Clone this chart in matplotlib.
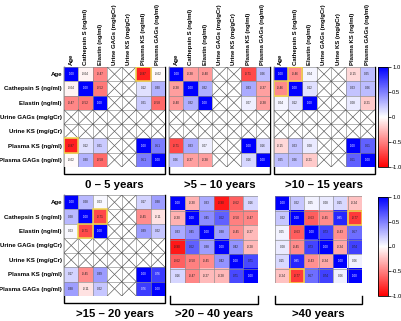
import numpy as np
import matplotlib
matplotlib.use("Agg")
import matplotlib.pyplot as plt
from matplotlib.colors import LinearSegmentedColormap
from matplotlib.patches import Rectangle

plt.rcParams['font.family'] = ['Liberation Sans', 'DejaVu Sans']

N = np.nan
variables = ["Age", "Cathepsin S (ng/ml)", "Elastin (ng/ml)", "Urine GAGs (mg/gCr)",
             "Urine KS (mg/gCr)", "Plasma KS (ng/ml)", "Plasma GAGs (ng/ml)"]

corr_0_5 = [
    [1.00, -0.04, -0.47, N, N, -0.87, -0.02],
    [-0.04, 1.00, -0.52, N, N, 0.12, 0.30],
    [-0.47, -0.52, 1.00, N, N, 0.21, -0.58],
    [N, N, N, N, N, N, N],
    [N, N, N, N, N, N, N],
    [-0.87, 0.12, 0.21, N, N, 1.00, 0.51],
    [-0.02, 0.30, -0.58, N, N, 0.51, 1.00]]
sig_0_5 = [(0, 5), (5, 0)]

corr_5_10 = [
    [1.00, -0.38, -0.40, N, N, -0.71, 0.26],
    [-0.38, 1.00, 0.32, N, N, 0.33, -0.37],
    [-0.40, 0.32, 1.00, N, N, 0.07, -0.38],
    [N, N, N, N, N, N, N],
    [N, N, N, N, N, N, N],
    [-0.71, 0.33, 0.07, N, N, 1.00, 0.16],
    [0.26, -0.37, -0.38, N, N, 0.16, 1.00]]
sig_5_10 = []

corr_10_15 = [
    [1.00, -0.46, 0.04, N, N, -0.15, 0.25],
    [-0.46, 1.00, 0.12, N, N, 0.23, 0.26],
    [0.04, 0.12, 1.00, N, N, 0.08, -0.21],
    [N, N, N, N, N, N, N],
    [N, N, N, N, N, N, N],
    [-0.15, 0.23, 0.08, N, N, 1.00, 0.61],
    [0.25, 0.26, -0.21, N, N, 0.61, 1.00]]
sig_10_15 = [(0, 1), (1, 0)]

corr_15_20 = [
    [1.00, 0.28, 0.03, N, N, 0.17, 0.38],
    [0.28, 1.00, -0.71, N, N, -0.45, -0.11],
    [0.03, -0.71, 1.00, N, N, 0.39, 0.22],
    [N, N, N, N, N, N, N],
    [N, N, N, N, N, N, N],
    [0.17, -0.45, 0.39, N, N, 1.00, 0.76],
    [0.38, -0.11, 0.22, N, N, 0.76, 1.00]]
sig_15_20 = [(1, 2), (2, 1)]

corr_20_40 = [
    [1.00, -0.30, 0.33, -0.90, -0.62, 0.16],
    [-0.30, 1.00, 0.45, 0.62, -0.50, -0.47],
    [0.33, 0.45, 1.00, 0.38, -0.45, -0.27],
    [-0.90, 0.62, 0.38, 1.00, 0.42, -0.28],
    [-0.62, -0.50, -0.45, 0.42, 1.00, 0.71],
    [0.16, -0.47, -0.27, -0.28, 0.71, 1.00]]
sig_20_40 = []

corr_40 = [
    [1.00, 0.22, 0.05, 0.08, 0.15, -0.24],
    [0.22, 1.00, -0.63, -0.45, 0.85, -0.77],
    [0.05, -0.63, 1.00, 0.73, -0.43, 0.57],
    [0.08, -0.45, 0.73, 1.00, -0.34, 0.74],
    [0.15, 0.85, -0.43, -0.34, 1.00, 0.06],
    [-0.24, -0.77, 0.57, 0.74, 0.06, 1.00]]
sig_40 = [(1, 5), (5, 1)]

titles = ["0 \u2013 5 years", ">5 \u2013 10 years", ">10 \u2013 15 years",
          ">15 \u2013 20 years", ">20 \u2013 40 years", ">40 years"]
cbar_ticks = [1.0, 0.5, 0.0, -0.5, -1.0]
cbar_ticklabels = ["1.0", "0.5", "0", "-0.5", "-1.0"]

W, H = 401, 321
fig = plt.figure(figsize=(W / 100, H / 100), dpi=100)

cmap = LinearSegmentedColormap.from_list("rwb", ["#FF0000", "#FFFFFF", "#0000FF"])
cmap.set_bad("white")


def box(x0, y0, x1, y1):
    return [x0 / W, 1 - y1 / H, (x1 - x0) / W, (y1 - y0) / H]


overlay = fig.add_axes([0, 0, 1, 1], zorder=0)
overlay.set_xlim(0, W)
overlay.set_ylim(H, 0)
overlay.axis("off")


def heatmap(data, sig, rect, rowlabels=False, collabels=False):
    m = np.array(data, dtype=float)
    n = m.shape[0]
    ax = fig.add_axes(box(*rect), zorder=2)
    im = ax.imshow(np.ma.masked_invalid(m), cmap=cmap, vmin=-1, vmax=1,
                   aspect="auto", interpolation="nearest")
    ax.set_xlim(-0.5, n - 0.5)
    ax.set_ylim(n - 0.5, -0.5)
    for k in range(n + 1):
        ax.axhline(k - 0.5, color="#8a8a8a", lw=0.45)
        ax.axvline(k - 0.5, color="#8a8a8a", lw=0.45)
    for i in range(n):
        for j in range(n):
            v = m[i, j]
            if np.isnan(v):
                ax.plot([j - 0.5, j + 0.5], [i - 0.5, i + 0.5], color="#555555", lw=0.45)
                ax.plot([j - 0.5, j + 0.5], [i + 0.5, i - 0.5], color="#555555", lw=0.45)
            else:
                ax.text(j, i, f"{v:.2f}", ha="center", va="center", fontsize=2.2,
                        color="white" if v > 0.75 else "#222222")
    for (i, j) in sig:
        ax.add_patch(Rectangle((j - 0.5, i - 0.5), 1, 1, fill=False,
                               edgecolor="#F4D64A", lw=1.1, zorder=5))
    for s in ax.spines.values():
        s.set_visible(False)
    ax.tick_params(length=0, pad=1.5)
    if rowlabels:
        ax.set_yticks(range(n))
        ax.set_yticklabels(variables, fontsize=4.4, fontweight="bold")
    else:
        ax.set_yticks([])
    if collabels:
        ax.xaxis.tick_top()
        ax.set_xticks(range(n))
        ax.set_xticklabels(variables, fontsize=4.3, fontweight="bold", rotation=90)
    else:
        ax.set_xticks([])
    return im


def bracket(x0, x1, ytop, ybot, title, ytitle):
    overlay.plot([x0, x0, x1, x1], [ytop, ybot, ybot, ytop], color="black", lw=1.0,
                 solid_joinstyle="miter")
    overlay.text((x0 + x1) / 2, ytitle, title, ha="center", va="center",
                 fontsize=8.2, fontweight="bold")


# top row
im = heatmap(corr_0_5, sig_0_5, (64, 67, 165, 167), rowlabels=True, collabels=True)
heatmap(corr_5_10, sig_5_10, (169, 67, 270, 167), collabels=True)
heatmap(corr_10_15, sig_10_15, (273.5, 67, 374.5, 167), collabels=True)
bracket(64, 165, 67, 174, titles[0], 185)
bracket(169, 270, 67, 174, titles[1], 185)
bracket(273.5, 374.5, 67, 174, titles[2], 185)

# bottom row
heatmap(corr_15_20, sig_15_20, (64, 195, 165, 296), rowlabels=True)
heatmap(corr_20_40, sig_20_40, (170, 196, 258, 283))
heatmap(corr_40, sig_40, (275, 196, 362, 283))
bracket(64, 165, 195, 303, titles[3], 314)
bracket(170, 258, 296, 304, titles[4], 314)
bracket(275, 362, 296, 304, titles[5], 314)

# colorbars
for (y0, y1) in [(67, 167), (197, 296)]:
    cax = fig.add_axes(box(378, y0, 388, y1), zorder=2)
    cb = fig.colorbar(im, cax=cax, ticks=cbar_ticks)
    cb.set_ticklabels(cbar_ticklabels)
    cb.outline.set_linewidth(0.6)
    cax.tick_params(labelsize=4.2, length=2, width=0.5, pad=1)

fig.savefig("out.png", dpi=100)
